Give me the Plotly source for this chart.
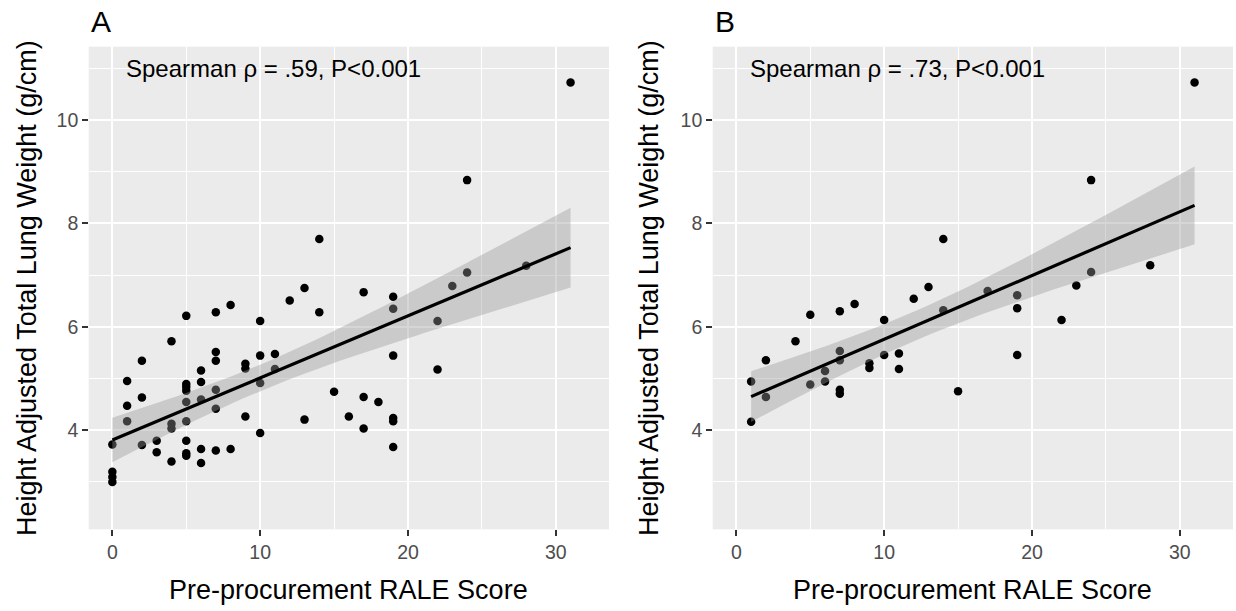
import numpy as np
import plotly.graph_objects as go

# ---------------- data ----------------
a_x = [0, 0, 0, 0, 1, 1, 1, 2, 2, 2, 3, 3, 4, 4, 4, 4,
       5, 5, 5, 5, 5, 5, 5, 5, 5, 6, 6, 6, 6, 6, 7, 7, 7, 7, 7, 7,
       8, 8, 9, 9, 9, 10, 10, 10, 10, 11, 11, 12, 13, 13, 14, 14,
       15, 16, 17, 17, 17, 18, 19, 19, 19, 19, 19, 19, 22, 22, 23,
       24, 24, 28, 31]
a_y = [3.72, 3.19, 3.09, 2.99, 4.95, 4.47, 4.17, 5.34, 4.63, 3.71, 3.79, 3.57,
       5.72, 4.12, 4.03, 3.39,
       6.21, 4.89, 4.83, 4.76, 4.54, 4.17, 3.79, 3.55, 3.50,
       5.15, 4.93, 4.59, 3.63, 3.36,
       6.28, 5.51, 5.34, 4.78, 4.41, 3.60,
       6.42, 3.63, 5.28, 5.19, 4.26, 6.11, 5.44, 4.91, 3.94, 5.47, 5.18, 6.51,
       6.75, 4.20, 7.70, 6.28, 4.74, 4.26, 6.67, 4.64, 4.03, 4.54,
       6.58, 6.35, 5.44, 4.23, 4.17, 3.67, 6.11, 5.17, 6.79, 8.84, 7.05, 7.18, 10.73]

b_x = [1, 1, 2, 2, 4, 5, 5, 6, 6, 7, 7, 7, 7, 7, 8, 9, 9, 10, 10, 11, 11,
       12, 13, 14, 14, 15, 17, 19, 19, 19, 22, 23, 24, 24, 28, 31]
b_y = [4.94, 4.16, 5.35, 4.64, 5.72, 6.23, 4.88, 5.14, 4.94,
       6.30, 5.53, 5.35, 4.78, 4.70, 6.44, 5.29, 5.20, 6.13, 5.45, 5.48, 5.18,
       6.54, 6.77, 7.70, 6.32, 4.75, 6.69, 6.61, 6.36, 5.45, 6.13, 6.80,
       8.84, 7.06, 7.19, 10.73]

panel_labels = ["A", "B"]
annot_texts = ["Spearman \u03c1 = .59, P<0.001", "Spearman \u03c1 = .73, P<0.001"]
x_title = "Pre-procurement RALE Score"
y_title = "Height Adjusted Total Lung Weight (g/cm)"
x_ticks = [0, 10, 20, 30]
y_ticks = [4, 6, 8, 10]
# two-sided 95% t quantiles for df = n-2
t_quant = {71: 1.995, 36: 2.032}


def lm_band(xs, ys):
    xs = np.asarray(xs, float)
    ys = np.asarray(ys, float)
    n = len(xs)
    slope, intercept = np.polyfit(xs, ys, 1)
    resid = ys - (intercept + slope * xs)
    sigma = np.sqrt(np.sum(resid ** 2) / (n - 2))
    xbar = xs.mean()
    sxx = np.sum((xs - xbar) ** 2)
    grid = np.linspace(xs.min(), xs.max(), 80)
    fit = intercept + slope * grid
    se = sigma * np.sqrt(1.0 / n + (grid - xbar) ** 2 / sxx)
    t = t_quant[n]
    return grid, fit, fit - t * se, fit + t * se


W, H = 1236, 611
FONT = "Liberation Sans, Arial, sans-serif"
fig = go.Figure()

panels = [(a_x, a_y, "x", "y"), (b_x, b_y, "x2", "y2")]
for xs, ys, xa, ya in panels:
    fig.add_trace(go.Scatter(x=xs, y=ys, mode="markers", xaxis=xa, yaxis=ya,
                             marker=dict(color="black", size=8.5, line=dict(width=0)),
                             showlegend=False, hoverinfo="x+y"))
    g, f, lo, hi = lm_band(xs, ys)
    fig.add_trace(go.Scatter(x=np.concatenate([g, g[::-1]]),
                             y=np.concatenate([hi, lo[::-1]]),
                             mode="lines", fill="toself", line=dict(width=0),
                             fillcolor="rgba(153,153,153,0.4)", xaxis=xa, yaxis=ya,
                             showlegend=False, hoverinfo="skip"))
    fig.add_trace(go.Scatter(x=g, y=f, mode="lines", xaxis=xa, yaxis=ya,
                             line=dict(color="black", width=3.2),
                             showlegend=False, hoverinfo="skip"))

# panel geometry in pixels
pan = [(88.7, 609.0), (712.7, 1233.0)]
top_px, bot_px = 46.7, 529.3
ydom = [1 - bot_px / H, 1 - top_px / H]


def xaxis_cfg(l, r, anchor):
    return dict(domain=[l / W, r / W], range=[-1.6, 33.6], tickvals=x_ticks,
                showgrid=True, gridcolor="white", gridwidth=2,
                minor=dict(tickvals=[5, 15, 25], showgrid=True, gridcolor="white", gridwidth=1.2),
                ticks="outside", ticklen=5.5, tickwidth=1.5, tickcolor="#333333",
                tickfont=dict(size=19.5, color="#4D4D4D", family=FONT),
                zeroline=False, showline=False, anchor=anchor, fixedrange=True)


def yaxis_cfg(anchor):
    return dict(domain=ydom, range=[2.075, 11.425], tickvals=y_ticks,
                showgrid=True, gridcolor="white", gridwidth=2,
                minor=dict(tickvals=[3, 5, 7, 9, 11], showgrid=True, gridcolor="white", gridwidth=1.2),
                ticks="outside", ticklen=5.5, tickwidth=1.5, tickcolor="#333333",
                tickfont=dict(size=19.5, color="#4D4D4D", family=FONT),
                zeroline=False, showline=False, anchor=anchor, fixedrange=True)


annotations = []
ytitle_px = [27, 649]
for i, (l, r) in enumerate(pan):
    sfx = "" if i == 0 else "2"
    # panel letter
    annotations.append(dict(text=panel_labels[i], x=l / W, y=1 - 21 / H, xref="paper", yref="paper",
                            xanchor="left", yanchor="middle", showarrow=False,
                            font=dict(size=30, color="black", family=FONT)))
    # x title
    annotations.append(dict(text=x_title, x=(l + r) / 2 / W, y=1 - 590 / H, xref="paper", yref="paper",
                            xanchor="center", yanchor="middle", showarrow=False,
                            font=dict(size=27, color="black", family=FONT)))
    # y title
    annotations.append(dict(text=y_title, x=ytitle_px[i] / W, y=1 - (top_px + bot_px) / 2 / H,
                            xref="paper", yref="paper", textangle=-90,
                            xanchor="center", yanchor="middle", showarrow=False,
                            font=dict(size=27, color="black", family=FONT)))
    # correlation text
    annotations.append(dict(text=annot_texts[i], x=0.8, y=11, xref="x" + sfx, yref="y" + sfx,
                            xanchor="left", yanchor="middle", showarrow=False,
                            font=dict(size=24, color="black", family=FONT)))

fig.update_layout(
    width=W, height=H, autosize=False,
    margin=dict(l=0, r=0, t=0, b=0),
    paper_bgcolor="white", plot_bgcolor="#EBEBEB",
    font=dict(family=FONT),
    xaxis=xaxis_cfg(pan[0][0], pan[0][1], "y"),
    yaxis=yaxis_cfg("x"),
    xaxis2=xaxis_cfg(pan[1][0], pan[1][1], "y2"),
    yaxis2=yaxis_cfg("x2"),
    annotations=annotations,
    showlegend=False,
)

fig.write_html("out.html", config={"displayModeBar": False},
               post_script="document.body.style.margin='0';document.body.style.overflow='hidden';")
